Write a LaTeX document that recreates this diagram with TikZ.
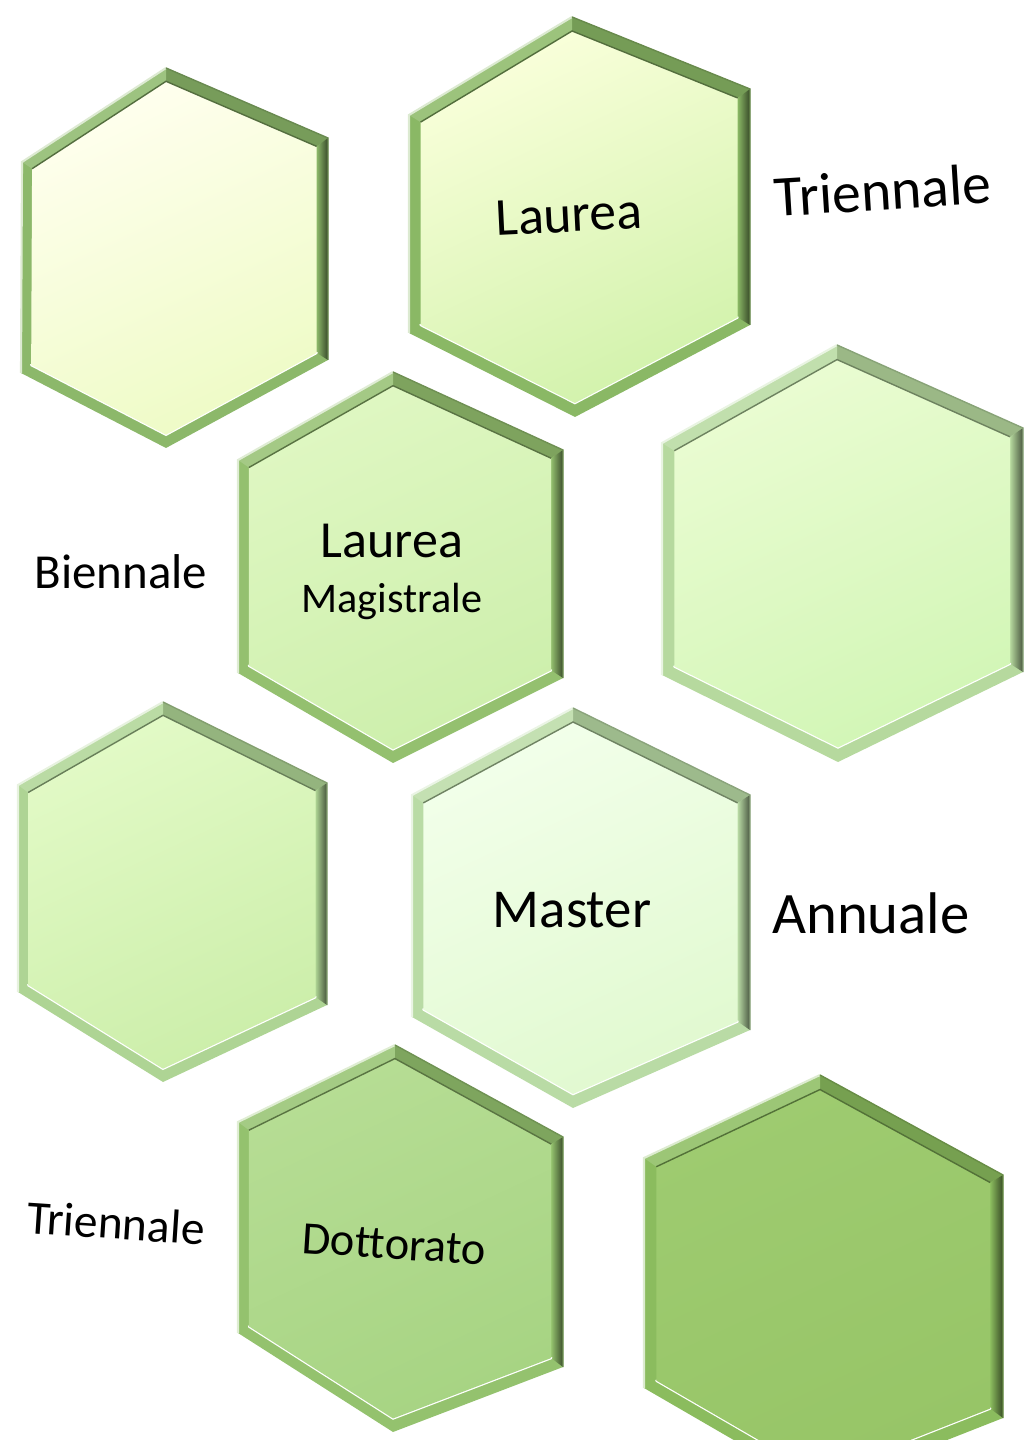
\documentclass[tikz,border=0pt]{standalone}
\usepackage{fontspec}
\setmainfont{Carlito}[Ligatures={NoCommon,NoContextual},Contextuals=NoAlternate]
\usetikzlibrary{calc,positioning}

% face and rim colours of each cell
\definecolor{hAtop}{HTML}{FFFFEE}\definecolor{hAbot}{HTML}{EEFBC6}\definecolor{hArim}{HTML}{8CB86A}
\definecolor{hBtop}{HTML}{F9FFDA}\definecolor{hBbot}{HTML}{D2F2AC}\definecolor{hBrim}{HTML}{8AB865}
\definecolor{hCtop}{HTML}{DFF7C2}\definecolor{hCbot}{HTML}{CDEFAC}\definecolor{hCrim}{HTML}{94C06F}
\definecolor{hDtop}{HTML}{EAFCD2}\definecolor{hDbot}{HTML}{D2F6B6}\definecolor{hDrim}{HTML}{B6D99E}
\definecolor{hEtop}{HTML}{E2FAC6}\definecolor{hEbot}{HTML}{CCEEAA}\definecolor{hErim}{HTML}{AED494}
\definecolor{hFtop}{HTML}{F2FFEA}\definecolor{hFbot}{HTML}{E1F9D0}\definecolor{hFrim}{HTML}{B9DBA5}
\definecolor{hGtop}{HTML}{B6DD94}\definecolor{hGbot}{HTML}{A7D483}\definecolor{hGrim}{HTML}{94C26E}
\definecolor{hHtop}{HTML}{9ECB70}\definecolor{hHbot}{HTML}{97C567}\definecolor{hHrim}{HTML}{8BBC5E}

% bevelled hexagon: #1 name (also colour prefix), #2--#7 corners
% top, upper right, lower right, bottom, lower left, upper left
\newcommand{\hexcell}[7]{%
  \coordinate (#1-t) at #2;
  \coordinate (#1-ur) at #3;
  \coordinate (#1-lr) at #4;
  \coordinate (#1-b) at #5;
  \coordinate (#1-ll) at #6;
  \coordinate (#1-ul) at #7;
  \coordinate (#1) at ($(#1-t)!0.5!(#1-b)$);
  \foreach \c in {t,ur,lr,b,ll,ul}
    \coordinate (#1-i\c) at ($(#1)!0.93!(#1-\c)$);
  \fill[#1rim] (#1-t) -- (#1-ur) -- (#1-lr) -- (#1-b) -- (#1-ll) -- (#1-ul) -- cycle;
  \fill[#1rim!85!black] (#1-t) -- (#1-ur) -- (#1-iur) -- (#1-it) -- cycle;
  \shade[left color=#1rim, right color=#1rim!40!black]
    (#1-ur) -- (#1-lr) -- (#1-ilr) -- (#1-iur) -- cycle;
  \fill[#1rim!85!white] (#1-ul) -- (#1-t) -- (#1-it) -- (#1-iul) -- cycle;
  \draw[white, line width=0.7pt, line cap=round] (#1-ill) -- (#1-ib) -- (#1-ilr);
  \draw[white!70!#1rim, line width=0.6pt] (#1-ll) -- (#1-ul) -- (#1-t);
  \shade[top color=#1top, bottom color=#1bot, shading angle=25]
    (#1-it) -- (#1-iur) -- (#1-ilr) -- (#1-ib) -- (#1-ill) -- (#1-iul) -- cycle;
  \draw[#1rim!60!black, line width=0.4pt] (#1-iul) -- (#1-it) -- (#1-iur);
  \draw[#1rim!75!black, line width=0.4pt] (#1-t) -- (#1-ur) -- (#1-lr);
}

\begin{document}
\begin{tikzpicture}[x=0.01cm, y=-0.01cm,
  celltext/.style={anchor=base, text=black, align=center},
  sidetext/.style={anchor=base, text=black}]

\useasboundingbox (0,0) rectangle (1024,1440);
\clip (0,0) rectangle (1024,1440);

% cells, row by row
\hexcell{hA}{(166,68)}{(328,138)}{(328,360)}{(166,448)}{(21,373)}{(22,162)}
\hexcell{hB}{(572,17)}{(750,89)}{(750,325)}{(575,417)}{(409,333)}{(409,115)}
\hexcell{hC}{(393,372)}{(563,450)}{(563,678)}{(393,763)}{(238,673)}{(238,460)}
\hexcell{hD}{(837,345)}{(1023,428)}{(1023,672)}{(838,762)}{(662,675)}{(662,443)}
\hexcell{hE}{(163,702)}{(327,783)}{(327,1005)}{(163,1082)}{(18,992)}{(18,785)}
\hexcell{hF}{(573,708)}{(750,795)}{(750,1030)}{(573,1108)}{(412,1017)}{(412,795)}
\hexcell{hG}{(395,1045)}{(563,1137)}{(563,1367)}{(393,1432)}{(238,1333)}{(238,1122)}
\hexcell{hH}{(820,1075)}{(1003,1175)}{(1003,1418)}{(820,1490)}{(644,1388)}{(644,1158)}

% Laurea
\node[celltext, rotate=2.8, font=\fontsize{15.2}{18}\selectfont] (laurea) at (570,232) {Laurea};
\node[sidetext, rotate=3.6, font=\fontsize{16.4}{19}\selectfont] (tri1) at (884,210) {Triennale};

% Laurea Magistrale
\node[celltext, font=\fontsize{14.8}{15.4}\selectfont] (magis) at (392,612)
  {Laurea\\{\fontsize{12}{15.4}\selectfont Magistrale}};
\node[sidetext, font=\fontsize{13.9}{17}\selectfont] (bien) at (121,588) {Biennale};

% Master
\node[celltext, font=\fontsize{15.6}{18}\selectfont] (master) at (572,927) {Master};
\node[sidetext, font=\fontsize{16.7}{19}\selectfont] (annu) at (871,933) {Annuale};

% Dottorato
\node[celltext, rotate=-3.7, font=\fontsize{13.2}{16}\selectfont] (dott) at (393,1259) {Dottorato};
\node[sidetext, rotate=-3.8, font=\fontsize{13.5}{16}\selectfont] (tri2) at (115,1239) {Triennale};

\end{tikzpicture}
\end{document}
